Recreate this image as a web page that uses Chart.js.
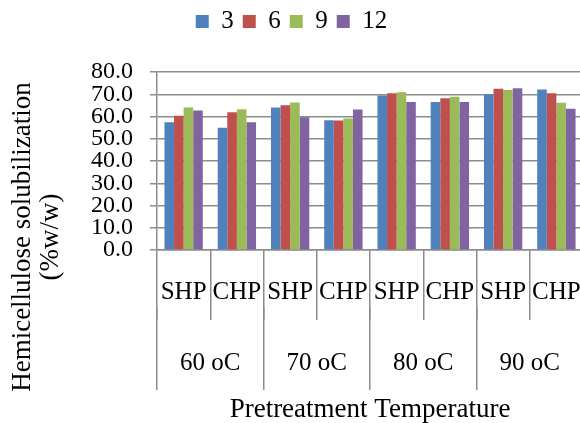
<!DOCTYPE html>
<html>
<head>
<meta charset="utf-8">
<script src="https://cdn.jsdelivr.net/npm/chart.js@4.4.1/dist/chart.umd.min.js"></script>
<style>
  html, body { margin: 0; padding: 0; background: #fff; overflow: hidden; }
  #wrap { width: 583px; height: 423px; }
</style>
</head>
<body>
<div id="wrap"><canvas id="myChart"></canvas></div>
<script>
// data
const categories = ['SHP', 'CHP', 'SHP', 'CHP', 'SHP', 'CHP', 'SHP', 'CHP'];
const temperatures = ['60 oC', '70 oC', '80 oC', '90 oC'];
const seriesNames = ['3', '6', '9', '12'];
const s3  = [57.4, 55.0, 64.0, 58.3, 69.4, 66.5, 70.0, 72.1];
const s6  = [60.3, 61.9, 65.1, 58.2, 70.4, 68.2, 72.5, 70.4];
const s9  = [64.0, 63.3, 66.3, 59.1, 70.9, 68.9, 71.9, 66.2];
const s12 = [62.7, 57.4, 59.7, 63.1, 66.5, 66.5, 72.7, 63.5];
const yMin = 0, yMax = 80, yStep = 10;

const serif = "'Liberation Serif', 'Times New Roman', serif";
const gridGray = '#8c8c8c';
const colors = ['#4F81BD', '#C0504D', '#9BBB59', '#8064A2'];

const myData = [s3, s6, s9, s12].map((vals, i) => ({
  label: seriesNames[i],
  data: vals,
  backgroundColor: colors[i],
  borderWidth: 0,
  xAxisID: 'x',
  categoryPercentage: 0.72,
  barPercentage: 1.0
}));

// y axis title, two lines, rotated
const yTitle = {
  id: 'yTitle',
  afterDraw(chart) {
    const ctx = chart.ctx;
    ctx.save();
    ctx.translate(0, 237);
    ctx.rotate(-Math.PI / 2);
    ctx.font = '27px ' + serif;
    ctx.fillStyle = '#000';
    ctx.textAlign = 'center';
    ctx.textBaseline = 'middle';
    ctx.fillText('Hemicellulose solubilization', 0, 23);
    ctx.fillText('(%w/w)', 0, 51);
    ctx.restore();
  }
};

const legendGap = {
  id: 'legendGap',
  beforeInit(chart) {
    const fit = chart.legend.fit;
    chart.legend.fit = function () {
      fit.bind(chart.legend)();
      this.height += 28;
    };
  }
};

var ctx = document.getElementById('myChart').getContext('2d');
var myChart = new Chart(ctx, {
  type: 'bar',
  data: {
    labels: categories,
    datasets: myData
  },
  plugins: [yTitle, legendGap],
  options: {
    responsive: true,
    maintainAspectRatio: false,
    animation: false,
    layout: { padding: { top: 0, left: 0, right: 0, bottom: 0 } },
    plugins: {
      tooltip: { enabled: false },
      legend: {
        position: 'top',
        labels: {
          boxWidth: 13,
          boxHeight: 13,
          padding: 9,
          color: '#000',
          font: { family: serif, size: 25 }
        }
      }
    },
    scales: {
      x: {
        position: 'bottom',
        offset: true,
        grid: {
          offset: true,
          drawOnChartArea: false,
          drawTicks: true,
          tickLength: 70,
          color: gridGray,
          lineWidth: 1.5
        },
        border: { display: true, color: gridGray, width: 1.5 },
        ticks: {
          color: '#000',
          padding: -43,
          maxRotation: 0,
          autoSkip: false,
          font: { family: serif, size: 25 }
        },
        afterFit: (s) => { s.height = 57; }
      },
      x2: {
        type: 'category',
        position: 'bottom',
        labels: temperatures,
        offset: true,
        grid: {
          offset: true,
          drawOnChartArea: false,
          drawTicks: true,
          tickLength: 83,
          color: gridGray,
          lineWidth: 1.5
        },
        border: { display: false },
        ticks: {
          color: '#000',
          padding: -42,
          maxRotation: 0,
          autoSkip: false,
          font: { family: serif, size: 25 }
        },
        title: {
          display: true,
          text: 'Pretreatment Temperature',
          color: '#000',
          padding: 0,
          font: { family: serif, size: 27, lineHeight: 1 }
        },
        afterFit: (s) => { s.height = 116; }
      },
      y: {
        min: yMin,
        max: yMax,
        ticks: {
          stepSize: yStep,
          autoSkip: false,
          color: '#000',
          padding: 17,
          font: { family: serif, size: 24 },
          callback: (v) => v.toFixed(1)
        },
        grid: {
          color: gridGray,
          lineWidth: 1.5,
          tickLength: 7
        },
        border: { display: true, color: gridGray, width: 1.5 },
        afterFit: (s) => { s.width = 157; }
      }
    }
  }
});
</script>
</body>
</html>
